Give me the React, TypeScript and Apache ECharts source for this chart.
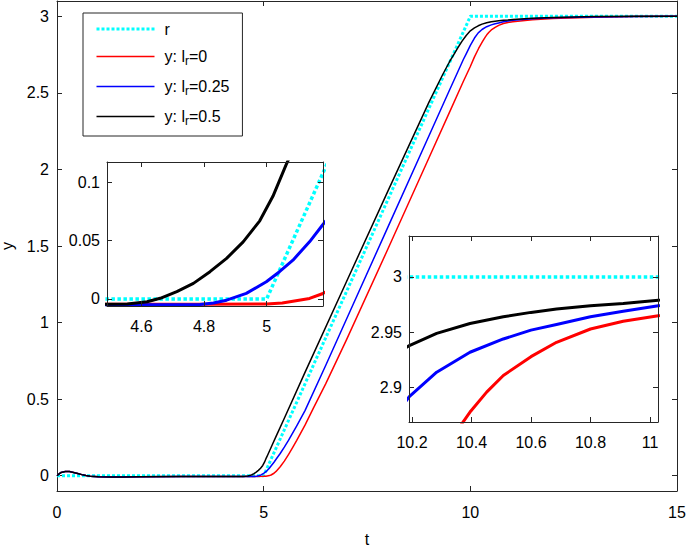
import React, { useEffect, useRef } from 'react';
import * as echarts from 'echarts';

const FONT = '"Liberation Sans", Arial, Helvetica, sans-serif';
const AX = '#262626';

// reference r(t)
const tRef = [0, 5, 10, 15];
const yRef = [0, 0, 3, 3];

// y with l_r = 0.5 (black)
const tBlack = [0, 0.05, 0.1, 0.2, 0.3, 0.4, 0.5, 0.6, 0.7, 0.8, 1.0, 1.3, 1.6, 2, 3, 4, 4.5, 4.555, 4.618, 4.66, 4.713, 4.766, 4.819, 4.872, 4.925, 4.978, 5.02, 5.062, 5.1, 5.2, 5.3, 5.5, 6, 7, 8, 9, 9.332, 9.5, 9.6, 9.7, 9.8, 9.9, 10, 10.1, 10.191, 10.283, 10.395, 10.507, 10.6, 10.686, 10.8, 10.91, 11.028, 11.5, 12, 13, 14, 15];
const yBlack = [0, 0.012, 0.021, 0.028, 0.027, 0.021, 0.014, 0.007, 0.001, -0.003, -0.007, -0.008, -0.008, -0.007, -0.005, -0.005, -0.0045, -0.0043, -0.0023, 0.0006, 0.0063, 0.0134, 0.0234, 0.0348, 0.049, 0.067, 0.088, 0.115, 0.137, 0.197, 0.257, 0.375, 0.675, 1.265, 1.855, 2.44, 2.62, 2.705, 2.75, 2.795, 2.838, 2.875, 2.905, 2.924, 2.938, 2.949, 2.958, 2.964, 2.968, 2.971, 2.974, 2.976, 2.979, 2.987, 2.993, 2.998, 3, 3];

// y with l_r = 0.25 (blue)
const tBlue = [0, 0.05, 0.1, 0.2, 0.3, 0.4, 0.5, 0.6, 0.7, 0.8, 1.0, 1.3, 1.6, 2, 3, 4, 4.5, 4.7, 4.787, 4.83, 4.872, 4.935, 4.999, 5.041, 5.084, 5.137, 5.178, 5.25, 5.3, 5.4, 5.5, 5.6, 5.8, 6, 6.5, 7, 8, 9, 9.5, 9.7, 9.831, 9.9, 10, 10.1, 10.191, 10.283, 10.395, 10.507, 10.6, 10.686, 10.8, 10.91, 11.028, 11.5, 12, 13, 14, 15];
const yBlue = [0, 0.012, 0.021, 0.028, 0.027, 0.021, 0.014, 0.007, 0.001, -0.003, -0.007, -0.008, -0.008, -0.007, -0.005, -0.005, -0.005, -0.005, -0.0048, -0.0035, -0.001, 0.0048, 0.0148, 0.0234, 0.0333, 0.049, 0.0632, 0.088, 0.107, 0.145, 0.186, 0.23, 0.325, 0.425, 0.72, 1.02, 1.62, 2.22, 2.52, 2.64, 2.718, 2.755, 2.81, 2.858, 2.892, 2.914, 2.932, 2.944, 2.952, 2.957, 2.964, 2.969, 2.974, 2.984, 2.99, 2.996, 2.999, 3];

// y with l_r = 0 (red)
const tRed = [0, 0.05, 0.1, 0.2, 0.3, 0.4, 0.5, 0.6, 0.7, 0.8, 1.0, 1.3, 1.6, 2, 3, 4, 4.5, 4.8, 5.0, 5.05, 5.084, 5.137, 5.178, 5.25, 5.3, 5.4, 5.5, 5.6, 5.7, 5.8, 6, 6.2, 6.5, 7, 8, 9, 9.5, 9.83, 10, 10.1, 10.2, 10.3, 10.364, 10.398, 10.451, 10.507, 10.6, 10.686, 10.8, 10.91, 11.028, 11.5, 12, 13, 14, 15];
const yRed = [0, 0.012, 0.021, 0.028, 0.027, 0.021, 0.014, 0.007, 0.001, -0.003, -0.007, -0.008, -0.008, -0.007, -0.005, -0.005, -0.0045, -0.0045, -0.0043, -0.0035, -0.002, 0.0005, 0.0045, 0.016, 0.028, 0.058, 0.095, 0.138, 0.183, 0.23, 0.33, 0.44, 0.6, 0.885, 1.477, 2.076, 2.376, 2.574, 2.672, 2.735, 2.79, 2.838, 2.866, 2.879, 2.896, 2.911, 2.928, 2.941, 2.953, 2.96, 2.965, 2.978, 2.986, 2.994, 2.998, 3];

const seriesNames = ['r', 'y: l_r=0', 'y: l_r=0.25', 'y: l_r=0.5'];
const seriesColors = ['#00FFFF', '#FF0000', '#0000FF', '#000000'];

const mainXTicks = [0, 5, 10, 15];
const mainYTicks = [0, 0.5, 1, 1.5, 2, 2.5, 3];
const in1XTicks = [4.6, 4.8, 5];
const in1YTicks = [0, 0.05, 0.1];
const in2XTicks = [10.2, 10.4, 10.6, 10.8, 11];
const in2YTicks = [2.9, 2.95, 3];

const pairs = (t: number[], y: number[]) => t.map((v, i) => [v, y[i]]);
const allData = [pairs(tRef, yRef), pairs(tRed, yRed), pairs(tBlue, yBlue), pairs(tBlack, yBlack)];

function axis(gridIndex: number, min: number, max: number, ticks: number[], position: string, showLabel: boolean, margin: number, z: number, extra: any = {}) {
  return {
    type: 'value',
    gridIndex,
    min,
    max,
    position,
    z,
    axisLine: { show: true, onZero: false, lineStyle: { color: AX, width: 1 } },
    axisTick: { show: true, inside: true, length: 5, customValues: ticks, lineStyle: { color: AX, width: 1 } },
    axisLabel: {
      show: showLabel,
      customValues: ticks,
      margin,
      color: '#000',
      fontSize: 16,
      fontFamily: FONT,
      formatter: (v: number) => String(v),
    },
    splitLine: { show: false },
    ...extra,
  };
}

function lineSeries(idx: number, xi: number, width: number, dot: number[], z: number) {
  const isRef = idx === 0;
  return {
    type: 'line',
    name: seriesNames[idx],
    xAxisIndex: xi,
    yAxisIndex: xi,
    data: allData[idx],
    symbol: 'none',
    showSymbol: false,
    smooth: false,
    clip: true,
    z,
    lineStyle: {
      color: seriesColors[idx],
      width: isRef ? dot[0] : width,
      type: isRef ? [dot[1], dot[2]] : 'solid',
      cap: 'butt',
      join: 'round',
    },
    emphasis: { disabled: true },
  };
}

export default function App() {
  const ref = useRef<HTMLDivElement>(null);
  useEffect(() => {
    if (!ref.current) return;
    const chart = echarts.init(ref.current, null, { renderer: 'svg' });
    const series: any[] = [];
    for (let i = 0; i < 4; i++) series.push(lineSeries(i, 0, 1.5, [3, 3, 2], 2));
    for (let i = 0; i < 4; i++) series.push(lineSeries(i, 2, 3, [3.5, 3.5, 2.5], 11));
    for (let i = 0; i < 4; i++) series.push(lineSeries(i, 4, 3, [3.5, 3.5, 2.5], 11));

    const option: any = {
      animation: false,
      backgroundColor: '#fff',
      textStyle: { fontFamily: FONT },
      grid: [
        { left: 57, right: 11, top: 1, bottom: 58, containLabel: false, outerBoundsMode: 'none' },
        { left: 107, top: 162, width: 216, height: 144, show: true, backgroundColor: '#fff', borderWidth: 0, z: 10, containLabel: false, outerBoundsMode: 'none' },
        { left: 409, top: 236, width: 249, height: 186, show: true, backgroundColor: '#fff', borderWidth: 0, z: 10, containLabel: false, outerBoundsMode: 'none' },
      ],
      xAxis: [
        axis(0, 0, 15, mainXTicks, 'bottom', true, 13, 1, {
          name: 't', nameLocation: 'middle', nameGap: 40,
          nameTextStyle: { fontSize: 16, fontFamily: FONT, color: '#000' },
        }),
        axis(0, 0, 15, mainXTicks, 'top', false, 8, 1),
        axis(1, 4.49, 5.18, in1XTicks, 'bottom', true, 12, 12),
        axis(1, 4.49, 5.18, in1XTicks, 'top', false, 8, 12),
        axis(2, 10.19, 11.027, in2XTicks, 'bottom', true, 12, 12),
        axis(2, 10.19, 11.027, in2XTicks, 'top', false, 8, 12),
      ],
      yAxis: [
        axis(0, -0.1, 3.1, mainYTicks, 'left', true, 8, 1, {
          name: 'y', nameLocation: 'middle', nameGap: 39,
          nameTextStyle: { fontSize: 16, fontFamily: FONT, color: '#000' },
        }),
        axis(0, -0.1, 3.1, mainYTicks, 'right', false, 8, 1),
        axis(1, -0.006, 0.1174, in1YTicks, 'left', true, 7, 12),
        axis(1, -0.006, 0.1174, in1YTicks, 'right', false, 8, 12),
        axis(2, 2.869, 3.037, in2YTicks, 'left', true, 7, 12),
        axis(2, 2.869, 3.037, in2YTicks, 'right', false, 8, 12),
      ],
      legend: {
        show: true,
        orient: 'vertical',
        left: 83,
        top: 13,
        padding: [8, 13, 9, 12],
        itemWidth: 58,
        itemHeight: 10,
        itemGap: 11.5,
        backgroundColor: '#fff',
        borderColor: AX,
        borderWidth: 1,
        selectedMode: false,
        z: 20,
        itemStyle: { color: 'rgba(0,0,0,0)', borderColor: 'rgba(0,0,0,0)', borderWidth: 0, opacity: 0 },
        lineStyle: { width: 1.5 },
        data: [
          { name: seriesNames[0], lineStyle: { width: 3 } },
          { name: seriesNames[1] },
          { name: seriesNames[2] },
          { name: seriesNames[3] },
        ],
        formatter: (name: string) => {
          if (name.indexOf('_') < 0) return '{g| }' + name;
          const [pre, post] = name.split('_');
          return '{g| }' + pre + '{s|' + post.slice(0, 1) + '}' + post.slice(1);
        },
        textStyle: {
          fontSize: 16,
          fontFamily: FONT,
          color: '#000',
          rich: {
            g: { width: 5, fontSize: 16 },
            s: { fontSize: 12, fontFamily: FONT, padding: [9, 0, 0, 0] },
          },
        },
      },
      series,
    };
    chart.setOption(option);
    return () => chart.dispose();
  }, []);
  return <div ref={ref} style={{ position: 'fixed', left: 0, top: 0, width: 688, height: 549 }} />;
}
